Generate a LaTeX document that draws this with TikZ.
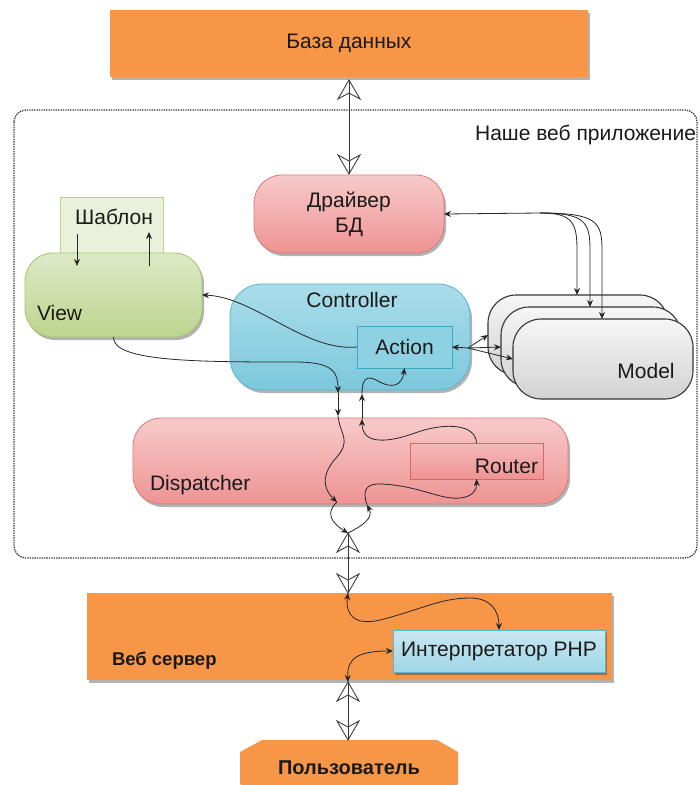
\documentclass[tikz,border=0pt]{standalone}
\usepackage{fontspec}
\setmainfont{Liberation Sans}
\usetikzlibrary{arrows.meta,shadows,calc}
\definecolor{orng}{HTML}{F79646}
\definecolor{txtc}{HTML}{1A1A1A}
\definecolor{pinkt}{HTML}{F8CACA}
\definecolor{pinkbot}{HTML}{EE9393}
\definecolor{pinkb}{HTML}{E07878}
\definecolor{greent}{HTML}{DDE9C6}
\definecolor{greenbot}{HTML}{BDD58E}
\definecolor{greenb}{HTML}{A5C470}
\definecolor{tmplf}{HTML}{EAF1DB}
\definecolor{tmplb}{HTML}{B8D08A}
\definecolor{bluet}{HTML}{AADDEA}
\definecolor{bluebot}{HTML}{7CC8DC}
\definecolor{blueb}{HTML}{5AB6CF}
\definecolor{actf}{HTML}{8DD1E2}
\definecolor{actb}{HTML}{3CA9C5}
\definecolor{phpt}{HTML}{C8E8F1}
\definecolor{phpbot}{HTML}{A0D6E6}
\definecolor{routb}{HTML}{DD6464}
\definecolor{grayt}{HTML}{F6F6F6}
\definecolor{graybot}{HTML}{D2D2D2}
\definecolor{grayb}{HTML}{353535}
\begin{document}
\begin{tikzpicture}[x=1pt,y=-1pt,
  txt/.style={inner sep=0pt, outer sep=0pt, font=\fontsize{21}{25}\selectfont, text=txtc},
  boldtxt/.style={txt, font=\fontsize{18.5}{23}\selectfont\bfseries},
  shad/.style={drop shadow={shadow xshift=2pt, shadow yshift=-3pt, opacity=0.3, fill=black}},
  orangebox/.style={txt, fill=orng, shad},
  pinkbox/.style={txt, rounded corners=28pt, draw=pinkb, line width=0.8pt, top color=pinkt, bottom color=pinkbot, shad},
  greenbox/.style={txt, rounded corners=28pt, draw=greenb, line width=0.8pt, top color=greent, bottom color=greenbot, shad},
  tmplbox/.style={txt, draw=tmplb, line width=0.8pt, fill=tmplf},
  bluebox/.style={txt, rounded corners=32pt, draw=blueb, line width=0.8pt, top color=bluet, bottom color=bluebot, shad},
  actbox/.style={txt, draw=actb, line width=0.8pt, fill=actf},
  routbox/.style={txt, draw=routb, line width=0.8pt, top color=pinkt!70!pinkbot, bottom color=pinkbot},
  phpbox/.style={txt, draw=blueb, line width=0.8pt, top color=phpt, bottom color=phpbot, shad},
  modelbox/.style={txt, rounded corners=28pt, draw=grayb, line width=1.1pt, top color=grayt, bottom color=graybot, minimum width=180pt, minimum height=80pt},
  sm/.style={draw=black!85, line width=0.8pt, -{Stealth[length=7pt,width=6pt]}},
  smb/.style={draw=black!85, line width=0.8pt, {Stealth[length=7pt,width=6pt]}-{Stealth[length=7pt,width=6pt]}},
  big/.style={draw=black!80, line width=0.9pt},
  chevup/.pic={\draw[black!75, line width=0.9pt, line join=miter] (0,0) -- (11,19) -- (0,13) -- (-11,19) -- cycle;},
  chevdown/.pic={\draw[black!75, line width=0.9pt, line join=miter] (0,0) -- (11,-19) -- (0,-13) -- (-11,-19) -- cycle;}
]
\useasboundingbox (0,0) rectangle (700,785);
\fill[white] (0,0) rectangle (700,785);

% application frame
\draw[line width=1.3pt, dash pattern=on 1.3pt off 1.1pt, black!80, rounded corners=12pt] (14,110) rectangle (697,558);
\node[txt, anchor=east] (apptxt) at (696,135) {Наше веб приложение};

% database
\node[orangebox, minimum width=478pt, minimum height=67pt] (db) at (349,43.5) {База данных};

% driver
\node[pinkbox, minimum width=190pt, minimum height=78pt, align=center] (drv) at (349,214) {Драйвер\\БД};

% template + view
\node[tmplbox, minimum width=103pt, minimum height=58pt] (tmpl) at (111.5,226) {};
\node[txt] (tmpltxt) at (114,217) {Шаблон};
\node[greenbox, minimum width=177pt, minimum height=84pt] (view) at (113.5,295) {};
\node[txt, anchor=west] (viewtxt) at (37,313) {View};

% controller
\node[bluebox, minimum width=240pt, minimum height=106pt] (ctrl) at (350,337) {};
\node[txt] (ctrltxt) at (352,300) {Controller};
\node[actbox, minimum width=95pt, minimum height=42pt] (act) at (404.5,347) {Action};

% models
\node[modelbox] (m1) at (578,335) {};
\node[modelbox] (m2) at (591,347) {};
\node[modelbox] (m3) at (603,359) {};
\node[txt] (modeltxt) at (646,371) {Model};

% dispatcher
\node[pinkbox, minimum width=435pt, minimum height=86pt] (disp) at (350.5,461) {};
\node[txt, anchor=west] (disptxt) at (150,485) {Dispatcher};
\node[routbox, minimum width=133pt, minimum height=36pt] (rout) at (476.5,461) {};
\node[txt, anchor=east] (routtxt) at (538,466) {Router};

% web server
\node[orangebox, minimum width=525pt, minimum height=87pt] (ws) at (349.5,636.5) {};
\node[boldtxt, anchor=west] (wstxt) at (112,661) {Веб сервер};
\node[phpbox, minimum width=212pt, minimum height=42pt] (php) at (499,651) {Интерпретатор PHP};

% user
\fill[orng] (262,740) -- (437,740) -- (458,752) -- (458,784) -- (446,792) -- (252,792) -- (240,784) -- (240,752) -- cycle;
\node[boldtxt, font=\fontsize{20}{24}\selectfont\bfseries] (user) at (349,768) {Пользователь};

% coordinates
\coordinate (dbbot) at (349,80);
\coordinate (drvtop) at (349,174);
\coordinate (hub) at (348,533);
\coordinate (wst) at (348,593);
\coordinate (wsb) at (348,682);
\coordinate (usertop) at (348,740);
\coordinate (ta) at (77,234);
\coordinate (tb) at (77,266);
\coordinate (tc) at (149,266);
\coordinate (td) at (149,232);
\coordinate (c1) at (338,393);
\coordinate (d1) at (338,416);
\coordinate (d2) at (337,502);
\coordinate (d3) at (367,505);
\coordinate (d4) at (362,419);
\coordinate (c2) at (362,394);
\coordinate (aj) at (468,348);

% big double arrows
\draw[big] (dbbot) -- (drvtop);
\pic at (dbbot) {chevup};
\pic at (drvtop) {chevdown};
\draw[big] (hub) -- (wst);
\pic at (hub) {chevup};
\pic at (wst) {chevdown};
\draw[big] (wsb) -- (usertop);
\pic at (wsb) {chevup};
\pic at (usertop) {chevdown};

% template arrows
\draw[sm] (ta) -- (tb);
\draw[sm] (tc) -- (td);

% driver <-> models
\draw[smb] (drv.east) -- (540,213) .. controls (572,213) and (577,222) .. (577,250) -- ($(m1.north west)+(89,0)$);
\draw[sm] (540,213) .. controls (585,213) and (590,222) .. (590,250) -- ($(m2.north west)+(89,0)$);
\draw[sm] (540,213) .. controls (597,213) and (602,222) .. (602,250) -- ($(m3.north west)+(89,0)$);

% action <-> models
\draw[smb] (act.east) -- (aj) -- (m1.west);
\draw[sm] (aj) -- (m2.west);
\draw[sm] (aj) -- (m3.west);

% action -> view
\draw[sm] (act.west) .. controls (305,352) and (255,297) .. (view.east);

% view -> dispatcher
\draw[sm] (view.south) .. controls (112,362) and (200,362) .. (295,362) .. controls (333,362) and (338,372) .. (c1);
\draw[sm] (c1) -- (d1);
\draw[sm] (d1) .. controls (340,435) and (352,440) .. (336,458) .. controls (320,476) and (324,490) .. (d2);
\draw[sm] (d2) .. controls (326,512) and (330,522) .. (hub);
\draw[sm] (hub) .. controls (362,526) and (374,518) .. (d3);
\draw[sm] (d3) .. controls (362,490) and (366,483) .. (382,484) .. controls (420,486) and (440,500) .. (460,498) .. controls (472,497) and (477,490) .. (rout.south);
\draw[sm] (rout.north) .. controls (476,424) and (445,422) .. (415,433) .. controls (390,442) and (362,446) .. (d4);
\draw[sm] (d4) -- (c2);
\draw[sm] (c2) .. controls (362,380) and (366,374) .. (378,381) .. controls (392,389) and (402,386) .. (act.south);

% web server curves
\draw[smb] (wst) .. controls (345,615) and (355,626) .. (380,620) .. controls (420,610) and (440,598) .. (470,598) .. controls (490,598) and (499,610) .. (php.north);
\draw[smb] (wsb) .. controls (347,660) and (355,651) .. (php.west);
\end{tikzpicture}
\end{document}
